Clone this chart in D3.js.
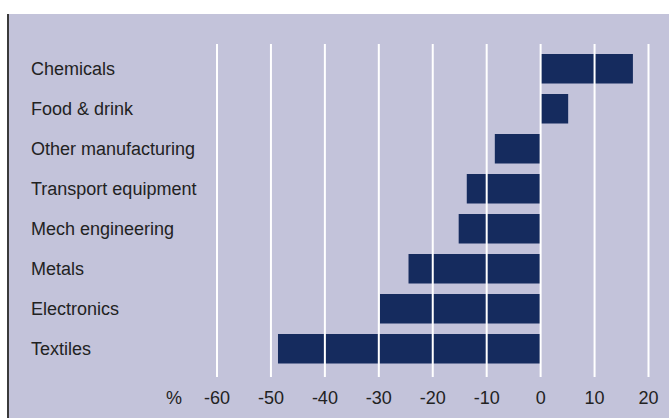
<!DOCTYPE html>
<html>
<head>
<meta charset="utf-8">
<script src="https://cdn.jsdelivr.net/npm/d3@7"></script>
<style>
  body { margin: 0; background: #fff; }
  svg { display: block; }
  text { font-family: "Liberation Sans", Arial, sans-serif; fill: #222; }
</style>
</head>
<body>
<div id="chart"></div>
<script>
const W = 669, H = 418;

// data
const categories = ["Chemicals", "Food & drink", "Other manufacturing", "Transport equipment",
                    "Mech engineering", "Metals", "Electronics", "Textiles"];
const values = [17.2, 5.2, -8.4, -13.6, -15.1, -24.4, -29.7, -48.6];
const tickValues = [-60, -50, -40, -30, -20, -10, 0, 10, 20];

const svg = d3.select("#chart")
    .append("svg")
    .attr("width", W)
    .attr("height", H);

// panel background
svg.append("rect")
    .attr("x", 8)
    .attr("y", 14)
    .attr("width", W - 8)
    .attr("height", H - 14)
    .attr("fill", "#c3c3da");

// dark left border
svg.append("line")
    .attr("x1", 8).attr("x2", 8)
    .attr("y1", 14).attr("y2", H)
    .attr("stroke", "#3a3a3a")
    .attr("stroke-width", 2);

const x = d3.scaleLinear().domain([-60, 20]).range([216.5, 648]);
const y = d3.scaleBand()
    .domain(categories)
    .range([48.75, 368.75])
    .paddingInner(0.2625)
    .paddingOuter(0.13125);

const gridTop = 44, gridBottom = 377;

// bars
svg.selectAll(".bar")
    .data(categories)
    .enter()
    .append("rect")
    .attr("class", "bar")
    .attr("x", (d, i) => x(Math.min(0, values[i])))
    .attr("y", d => y(d))
    .attr("width", (d, i) => Math.abs(x(values[i]) - x(0)))
    .attr("height", y.bandwidth())
    .attr("fill", "#152b5e");

// category labels
svg.selectAll(".cat")
    .data(categories)
    .enter()
    .append("text")
    .attr("class", "cat")
    .attr("x", 31)
    .attr("y", d => y(d) + y.bandwidth() / 2)
    .attr("dy", "0.36em")
    .style("font-size", "18px")
    .text(d => d);

// axis with gridlines on top of bars
const xAxis = d3.axisBottom(x)
    .tickValues(tickValues)
    .tickSize(-(gridBottom - gridTop))
    .tickPadding(14)
    .tickFormat(d => String(d));

const ax = svg.append("g")
    .attr("transform", `translate(0,${gridBottom})`)
    .call(xAxis);

ax.select(".domain").remove();
ax.selectAll(".tick line")
    .attr("stroke", "#fff")
    .attr("stroke-width", 2);
ax.selectAll(".tick text")
    .attr("fill", "#222")
    .style("font-size", "18px")
    .style("font-family", "\"Liberation Sans\", Arial, sans-serif");

// unit label
svg.append("text")
    .attr("x", 182)
    .attr("y", gridBottom + 14)
    .attr("dy", "0.71em")
    .attr("text-anchor", "end")
    .style("font-size", "18px")
    .text("%");
</script>
</body>
</html>
